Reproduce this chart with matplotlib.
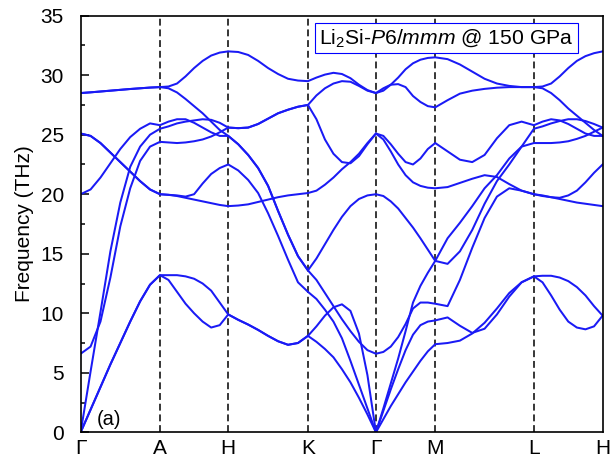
import numpy as np
import matplotlib
matplotlib.use('Agg')
import matplotlib.pyplot as plt

plt.rcParams['font.family'] = ['Liberation Sans', 'DejaVu Sans']
plt.rcParams['mathtext.fontset'] = 'custom'
plt.rcParams['mathtext.rm'] = 'Liberation Sans'
plt.rcParams['mathtext.it'] = 'Liberation Sans:italic'

# high-symmetry path (distances along k-path) and labels
kpath = [0, 79.3, 147.6, 227.3, 295.3, 354.6, 453.3, 522.0]
klabels = ['Γ', 'A', 'H', 'K', 'Γ', 'M', 'L', 'H']

# phonon branches, 9 samples per segment (G-A, A-H, H-K, K-G, G-M, M-L, L-H), THz
b1 = [[0, 1.9, 3.8, 5.7, 7.5, 9.3, 11.0, 12.4, 13.2],
      [13.2, 13.2, 13.2, 13.1, 12.9, 12.5, 11.9, 10.9, 9.9],
      [9.9, 9.45, 9.05, 8.6, 8.1, 7.65, 7.35, 7.5, 8.1],
      [8.1, 8.9, 9.8, 10.5, 10.75, 10.2, 8.3, 4.8, 0],
      [0, 1.8, 3.6, 5.3, 6.9, 8.2, 9.0, 9.3, 9.4],
      [9.4, 9.65, 8.95, 8.35, 8.7, 9.9, 11.4, 12.6, 13.1],
      [13.1, 13.15, 13.15, 13.0, 12.7, 12.2, 11.5, 10.6, 9.8]]
b2 = [[0, 1.9, 3.8, 5.7, 7.5, 9.3, 11.0, 12.4, 13.2],
      [13.2, 12.8, 11.8, 10.8, 10.0, 9.3, 8.8, 9.0, 9.9],
      [9.9, 9.45, 9.05, 8.6, 8.1, 7.65, 7.35, 7.5, 8.1],
      [8.1, 7.6, 7.0, 6.3, 5.3, 4.2, 2.9, 1.5, 0],
      [0, 1.1, 2.2, 3.2, 4.2, 5.1, 6.0, 6.8, 7.4],
      [7.4, 7.5, 7.7, 8.3, 9.2, 10.4, 11.7, 12.6, 13.1],
      [13.1, 12.6, 11.5, 10.3, 9.3, 8.8, 8.65, 8.9, 9.8]]
b3 = [[0, 5.1, 10.1, 15.2, 19.3, 22.3, 24.0, 25.0, 25.5],
      [25.5, 25.7, 25.95, 26.1, 26.2, 26.3, 26.25, 26.0, 25.6],
      [25.6, 25.55, 25.6, 25.9, 26.35, 26.8, 27.1, 27.35, 27.5],
      [27.5, 28.3, 28.9, 29.3, 29.5, 29.45, 29.1, 28.7, 28.5],
      [28.5, 28.9, 29.2, 29.25, 29.0, 28.25, 27.75, 27.4, 27.3],
      [27.3, 27.9, 28.45, 28.7, 28.85, 28.95, 29.0, 29.0, 29.0],
      [29.0, 28.9, 28.5, 27.9, 27.2, 26.6, 26.0, 25.4, 24.9]]
b4 = [[6.6, 7.2, 9.3, 13.0, 17.3, 20.5, 22.8, 24.0, 24.4],
      [24.4, 24.35, 24.3, 24.35, 24.45, 24.6, 24.85, 25.2, 25.6],
      [25.6, 25.55, 25.6, 25.9, 26.35, 26.8, 27.1, 27.35, 27.5],
      [27.5, 26.3, 24.6, 23.4, 22.7, 22.6, 23.2, 24.2, 25.1],
      [25.1, 24.9, 24.2, 23.4, 22.7, 22.5, 23.0, 23.8, 24.3],
      [24.3, 23.6, 22.9, 22.7, 23.3, 24.7, 25.8, 26.1, 25.8],
      [25.8, 26.1, 26.3, 26.2, 25.9, 25.5, 25.1, 24.9, 24.9]]
b5 = [[20.0, 20.4, 21.4, 22.6, 23.8, 24.8, 25.5, 25.95, 25.8],
      [25.8, 26.1, 26.3, 26.3, 26.0, 25.6, 25.2, 24.9, 24.9],
      [24.9, 24.2, 23.3, 22.2, 20.7, 18.6, 16.6, 14.8, 13.6],
      [13.6, 14.6, 15.8, 17.0, 18.1, 19.0, 19.6, 19.9, 20.0],
      [20.0, 19.85, 19.4, 18.8, 18.0, 17.2, 16.3, 15.35, 14.4],
      [14.4, 14.15, 15.2, 17.0, 19.2, 21.1, 22.5, 24.0, 25.5],
      [25.5, 25.7, 25.95, 26.15, 26.3, 26.3, 26.15, 25.9, 25.6]]
b6 = [[25.1, 24.9, 24.3, 23.5, 22.7, 21.9, 21.1, 20.4, 20.0],
      [20.0, 19.95, 19.9, 19.8, 20.0, 20.9, 21.7, 22.2, 22.5],
      [22.5, 22.0, 21.2, 20.1, 18.4, 16.5, 14.5, 12.6, 11.8],
      [11.8, 11.2, 10.3, 9.3, 7.9, 6.0, 4.0, 2.0, 0],
      [0, 2.0, 4.1, 6.2, 8.5, 10.9, 12.3, 13.4, 14.4],
      [14.4, 16.3, 17.6, 19.0, 20.5, 21.6, 23.0, 24.0, 24.3],
      [24.3, 24.3, 24.3, 24.35, 24.45, 24.65, 24.9, 25.25, 25.6]]
b7 = [[25.1, 24.9, 24.3, 23.5, 22.7, 21.9, 21.1, 20.4, 20.0],
      [20.0, 19.95, 19.85, 19.7, 19.55, 19.4, 19.25, 19.1, 19.0],
      [19.0, 19.05, 19.15, 19.35, 19.55, 19.75, 19.9, 20.0, 20.1],
      [20.1, 20.3, 20.8, 21.4, 22.1, 22.7, 23.4, 24.3, 25.1],
      [25.1, 24.6, 23.6, 22.5, 21.6, 21.0, 20.7, 20.55, 20.5],
      [20.5, 20.6, 20.95, 21.3, 21.6, 21.45, 20.85, 20.3, 20.0],
      [20.0, 19.85, 19.75, 19.7, 19.9, 20.3, 21.0, 21.8, 22.5]]
b8 = [[28.5, 28.56, 28.63, 28.7, 28.77, 28.84, 28.9, 28.96, 29.0],
      [29.0, 29.05, 29.3, 29.9, 30.6, 31.2, 31.65, 31.9, 32.0],
      [32.0, 31.95, 31.7, 31.2, 30.6, 30.1, 29.7, 29.55, 29.5],
      [29.5, 29.8, 30.05, 30.2, 30.1, 29.75, 29.2, 28.75, 28.5],
      [28.5, 28.7, 29.2, 29.8, 30.5, 31.0, 31.3, 31.45, 31.5],
      [31.5, 31.35, 30.9, 30.3, 29.7, 29.3, 29.1, 29.0, 29.0],
      [29.0, 29.05, 29.3, 29.9, 30.6, 31.2, 31.6, 31.85, 32.0]]
b9 = [[28.5, 28.56, 28.63, 28.7, 28.77, 28.84, 28.9, 28.96, 29.0],
      [29.0, 28.9, 28.55, 28.0, 27.4, 26.8, 26.1, 25.4, 24.9],
      [24.9, 24.2, 23.3, 22.2, 20.7, 18.6, 16.6, 14.8, 13.6],
      [13.6, 12.8, 11.7, 10.6, 9.5, 8.5, 7.6, 6.9, 6.6],
      [6.6, 6.75, 7.2, 8.0, 9.1, 10.4, 10.9, 10.9, 10.8],
      [10.8, 10.6, 12.8, 15.5, 18.0, 19.8, 20.5, 20.3, 20.0],
      [20.0, 19.9, 19.75, 19.6, 19.45, 19.3, 19.2, 19.1, 19.0]]
bands = [b1, b2, b3, b4, b5, b6, b7, b8, b9]

fig = plt.figure(figsize=(6.11, 4.68), dpi=100)
ax = fig.add_axes([0.132, 0.0763, 0.8543, 0.8902])

for k in kpath[1:-1]:
    ax.axvline(k, color='black', lw=1.1, ls=(0, (4.5, 2.5)), zorder=1)

for band in bands:
    xs, ys = [], []
    for i, seg in enumerate(band):
        x = np.linspace(kpath[i], kpath[i + 1], len(seg))
        if i > 0:
            x, seg = x[1:], seg[1:]
        xs.extend(x)
        ys.extend(seg)
    ax.plot(xs, ys, color='#1a1af5', lw=1.45, zorder=2)

ax.set_xlim(kpath[0], kpath[-1])
ax.set_ylim(0, 35)
ax.set_xticks(kpath)
ax.set_xticklabels(klabels)
ax.set_yticks(np.arange(0, 36, 5))
ax.set_yticks(np.arange(2.5, 35, 5), minor=True)
ax.tick_params(axis='x', length=0, pad=5, labelsize=15)
ax.tick_params(axis='y', which='major', direction='in', length=6, width=1.1, labelsize=15, pad=12)
ax.tick_params(axis='y', which='minor', direction='in', length=3, width=1.1)
for sp in ax.spines.values():
    sp.set_linewidth(1.2)
ax.set_ylabel('Frequency (THz)', fontsize=15, labelpad=5)

ax.text(0.031, 0.008, '(a)', transform=ax.transAxes, fontsize=14.5, va='bottom', ha='left')
ax.text(0.7008, 0.9465, 'Li$_2$Si-$\\mathit{P6/mmm}$ @ 150 GPa', transform=ax.transAxes,
        ha='center', va='center', fontsize=15.2,
        bbox=dict(boxstyle='square,pad=0.2', fc='white', ec='blue', lw=0.8))

fig.savefig('out.png', dpi=100)
